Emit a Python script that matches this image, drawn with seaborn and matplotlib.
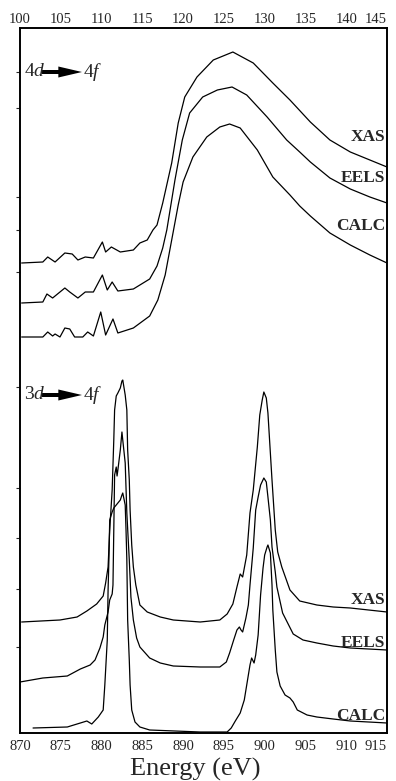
import matplotlib
matplotlib.use("Agg")
import matplotlib.pyplot as plt
import seaborn as sns

sns.set_style("ticks")
plt.rcParams['font.family'] = ['Liberation Serif', 'DejaVu Serif']
plt.rcParams['mathtext.fontset'] = 'custom'
plt.rcParams['mathtext.rm'] = 'Liberation Serif'
plt.rcParams['mathtext.it'] = 'Liberation Serif:italic'

# ---------------- 4d -> 4f (top axis, eV) ----------------
xas4_e = [100.2,102.8,103.4,104.3,105.5,106.4,107.1,108.0,109.0,110.1,110.5,111.2,112.3,113.9,114.7,115.6,116.3,116.8,117.5,118.6,119.4,120.2,121.7,123.7,126.1,128.6,131.0,133.1,135.6,138.0,140.5,142.9,145.0]
xas4_i = [470,471,476,471,480,479,473,476,475,491,481,486,481,483,490,493,503,508,530,570,610,636,656,673,681,670,650,633,611,593,581,573,566]

eels4_e = [100.2,102.8,103.3,104.0,105.5,106.1,107.1,108.0,109.0,110.1,110.7,111.3,112.0,113.9,115.1,115.9,116.8,117.5,118.0,119.0,119.9,120.8,122.4,124.2,126.0,127.8,130.3,132.7,134.3,135.6,138.0,140.5,142.9,145.0]
eels4_i = [430,431,439,435,445,441,435,441,441,458,443,451,442,444,450,454,467,485,503,553,593,620,636,643,646,638,616,593,581,571,555,544,536,530]

calc4_e = [100.2,102.8,103.4,104.0,104.3,104.9,105.5,106.1,106.7,107.7,108.3,109.0,109.9,110.5,111.4,112.0,113.9,115.9,116.9,117.8,118.6,119.4,120.0,121.2,122.9,124.5,125.7,127.0,129.1,131.0,133.1,134.3,135.6,138.0,140.5,142.9,145.0]
calc4_i = [396,396,401,397,399,396,405,404,396,396,401,397,421,398,414,400,405,417,433,458,493,528,551,576,596,606,609,605,583,556,538,527,517,500,488,478,470]

# ---------------- 3d -> 4f (bottom axis, eV) ----------------
xas3_e = [870.2,874.9,877.0,878.2,879.4,880.2,880.5,880.8,881.0,881.3,881.5,881.6,881.8,882.0,882.3,882.5,882.6,882.9,883.1,883.2,883.4,883.5,883.7,883.9,884.2,884.7,885.6,887.2,888.8,892.1,894.5,895.4,896.1,896.6,897.0,897.3,897.8,898.2,898.6,899.1,899.4,899.7,899.9,900.2,900.4,900.9,901.3,901.6,902.1,903.1,904.3,906.4,908.4,910.5,915.0]
xas3_i = [111,113,116,122,129,137,150,166,203,243,293,323,337,340,345,352,353,338,323,283,253,223,188,166,148,128,121,116,113,111,113,119,129,146,159,156,178,220,243,286,318,333,341,335,320,253,203,181,166,143,132,128,126,125,121]

eels3_e = [870.0,872.8,875.8,877.4,878.6,879.2,879.8,880.2,880.4,880.8,881.0,881.3,881.4,881.5,881.6,881.8,881.9,882.0,882.3,882.5,882.6,882.9,883.1,883.4,883.6,883.9,884.3,884.7,885.9,887.2,888.8,892.1,894.5,895.3,895.7,896.2,896.6,896.9,897.1,897.3,897.7,898.0,898.2,898.6,898.9,899.2,899.5,899.9,900.2,900.4,900.7,900.9,901.3,901.5,902.2,903.5,904.7,906.4,908.4,910.5,915.0]
eels3_i = [51,55,57,64,68,73,85,96,108,121,133,139,148,203,258,266,257,263,283,301,293,270,220,173,136,113,95,86,75,70,67,66,66,71,80,93,103,106,103,101,115,128,148,185,223,236,248,255,251,236,213,186,161,146,120,99,93,90,87,85,83]

calc3_e = [871.6,875.8,877.4,878.2,878.8,879.6,880.2,880.4,880.7,880.8,880.9,881.0,881.3,881.5,882.0,882.3,882.5,882.6,882.9,883.0,883.1,883.2,883.4,883.5,883.7,884.1,884.7,885.9,892.1,895.4,895.9,896.4,897.0,897.5,898.0,898.2,898.4,898.7,898.9,899.2,899.5,899.8,900.0,900.3,900.4,900.7,900.9,901.0,901.3,901.5,901.9,902.5,903.1,903.5,904.0,905.2,906.4,908.4,910.5,915.0]
calc3_i = [5,6,10,12,9,16,23,48,93,143,173,213,221,225,230,233,238,240,228,203,173,113,73,48,23,11,6,3,1,1,5,12,20,33,58,68,75,70,78,98,138,165,178,186,188,180,148,123,83,61,47,38,35,31,23,18,16,14,12,10]

top_ticks = [100, 105, 110, 115, 120, 125, 130, 135, 140, 145]
bottom_ticks = [870, 875, 880, 885, 890, 895, 900, 905, 910, 915]
y_ticks = [661, 625, 536, 503, 461, 346, 245, 195, 144, 86]
labels_4d = [("XAS", 596), ("EELS", 555), ("CALC", 507)]
labels_3d = [("XAS", 133), ("EELS", 90), ("CALC", 17)]

fig = plt.figure(figsize=(3.96, 7.81), dpi=100)
ax = fig.add_axes([20/396, 48/781, 367/396, 705/781])
ax2 = ax.twiny()

lw = 0.9
for e, i in [(xas3_e, xas3_i), (eels3_e, eels3_i), (calc3_e, calc3_i)]:
    sns.lineplot(x=e, y=i, ax=ax, color="black", lw=lw, sort=False, estimator=None)
for e, i in [(xas4_e, xas4_i), (eels4_e, eels4_i), (calc4_e, calc4_i)]:
    sns.lineplot(x=e, y=i, ax=ax2, color="black", lw=lw, sort=False, estimator=None)

ax.set_xlim(870, 915)
ax2.set_xlim(100, 145)
ax.set_ylim(0, 705)

ax.set_xticks(bottom_ticks)
ax.set_xticklabels([str(t) for t in bottom_ticks])
ax2.set_xticks(top_ticks)
ax2.set_xticklabels([str(t) for t in top_ticks])
ax.get_xticklabels()[-1].set_ha("right")
ax2.get_xticklabels()[-1].set_ha("right")
ax.set_yticks(y_ticks)
ax.set_yticklabels([])
ax.tick_params(axis="x", length=0, pad=5, labelsize=10.5)
ax2.tick_params(axis="x", length=0, pad=1.5, labelsize=10.5)
ax.tick_params(axis="y", length=3, width=0.8, direction="out")
ax.set_xlabel("Energy (eV)", fontsize=19)
ax.xaxis.set_label_coords(0.478, -0.035)
ax.set_ylabel("")

for a in (ax, ax2):
    for s in a.spines.values():
        s.set_linewidth(1.2)
        s.set_color("black")
        s.set_visible(True)

for txt, yv in labels_4d + labels_3d:
    ax.text(914.8, yv, txt, ha="right", va="center", fontsize=12.5, fontweight="bold")

# transition labels
def transition(y, first):
    ax.text(870.55, y, first + r"$\it{d}$", ha="left", va="center", fontsize=14)
    ax.arrow(872.7, y, 4.9, 0, width=4, head_width=11, head_length=2.9,
             length_includes_head=True, color="black", lw=0)
    ax.text(877.75, y, r"4$\it{f}$", ha="left", va="center", fontsize=14)

transition(661, "4")
transition(338, "3")

fig.savefig("out.png", dpi=100)
